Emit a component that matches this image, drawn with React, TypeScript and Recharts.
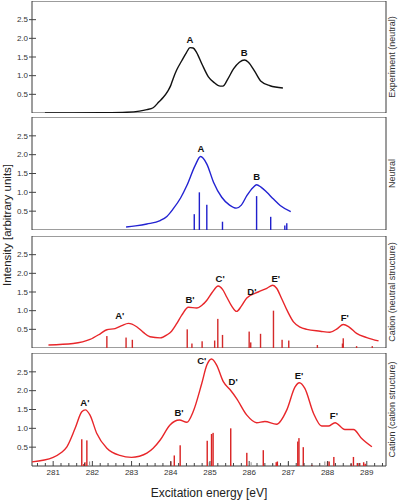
import React from "react";
import { ComposedChart, Line, Bar, XAxis, YAxis, ReferenceArea, ReferenceDot } from "recharts";

const X_DOMAIN: [number, number] = [280.46, 289.49];
const Y_TICKS = [0.5, 1.0, 1.5, 2.0, 2.5];
const X_MAJOR = [281, 282, 283, 284, 285, 286, 287, 288, 289];

// Experiment (neutral)
const expE = [280.79, 281.5, 282.2, 282.88, 283.2, 283.39, 283.55, 283.7, 283.81, 283.92, 284.0, 284.06, 284.15, 284.28, 284.4, 284.49, 284.57, 284.66, 284.8, 284.96, 285.1, 285.26, 285.33, 285.45, 285.6, 285.75, 285.88, 285.98, 286.15, 286.3, 286.53, 286.86];
const expV = [0, 0, 0.005, 0.02, 0.05, 0.09, 0.14, 0.3, 0.42, 0.58, 0.74, 0.92, 1.15, 1.4, 1.62, 1.75, 1.74, 1.62, 1.3, 0.97, 0.82, 0.72, 0.72, 0.9, 1.18, 1.36, 1.42, 1.36, 1.1, 0.85, 0.73, 0.67];

// Neutral
const neuE = [282.86, 283.1, 283.39, 283.73, 283.9, 284.06, 284.25, 284.41, 284.62, 284.76, 284.92, 285.09, 285.3, 285.5, 285.67, 285.8, 285.94, 286.1, 286.19, 286.3, 286.45, 286.62, 286.79, 287.06];
const neuV = [0.08, 0.11, 0.16, 0.25, 0.36, 0.56, 0.85, 1.18, 1.71, 1.95, 1.75, 1.27, 0.87, 0.66, 0.58, 0.66, 0.91, 1.13, 1.2, 1.14, 1.0, 0.82, 0.65, 0.49];
const neuStickE = [284.6, 284.73, 284.92, 285.32, 286.19, 286.55, 286.91, 286.96];
const neuStickV = [0.42, 1.0, 0.67, 0.22, 0.9, 0.35, 0.12, 0.18];

// Cation (neutral structure)
const catNE = [280.88, 281.51, 281.94, 282.2, 282.37, 282.58, 282.75, 282.92, 283.13, 283.3, 283.47, 283.73, 283.9, 284.02, 284.15, 284.28, 284.45, 284.66, 284.8, 284.92, 285.05, 285.21, 285.32, 285.43, 285.55, 285.68, 285.8, 285.94, 286.23, 286.45, 286.6, 286.7, 286.83, 286.98, 287.13, 287.3, 287.47, 287.81, 288.06, 288.25, 288.4, 288.55, 288.74, 289.0, 289.3];
const catNV = [0.08, 0.12, 0.23, 0.38, 0.49, 0.52, 0.6, 0.66, 0.57, 0.42, 0.3, 0.27, 0.35, 0.45, 0.65, 0.88, 1.09, 1.07, 1.15, 1.28, 1.48, 1.66, 1.57, 1.36, 1.13, 0.98, 1.12, 1.34, 1.5, 1.6, 1.68, 1.6, 1.32, 0.98, 0.7, 0.56, 0.5, 0.45, 0.42, 0.52, 0.63, 0.56, 0.39, 0.28, 0.19];
const catNStickE = [282.37, 282.86, 283.02, 284.42, 284.54, 284.8, 285.12, 285.2, 285.32, 286.0, 286.04, 286.29, 286.62, 286.84, 287.01, 287.74, 288.38, 288.4, 288.74, 289.14];
const catNStickV = [0.32, 0.28, 0.22, 0.5, 0.12, 0.18, 0.2, 0.78, 0.35, 0.44, 0.15, 0.38, 1.0, 0.22, 0.2, 0.08, 0.12, 0.26, 0.05, 0.05];

// Cation (cation structure)
const catCE = [280.46, 281.0, 281.2, 281.35, 281.56, 281.73, 281.82, 281.94, 282.11, 282.37, 282.7, 283.0, 283.2, 283.39, 283.55, 283.73, 283.98, 284.22, 284.41, 284.57, 284.79, 284.92, 285.04, 285.17, 285.34, 285.51, 285.68, 285.94, 286.19, 286.4, 286.7, 286.96, 287.17, 287.28, 287.42, 287.64, 287.85, 288.02, 288.19, 288.44, 288.66, 288.87, 289.13];
const catCV = [0.11, 0.23, 0.35, 0.51, 1.0, 1.44, 1.49, 1.35, 0.87, 0.47, 0.28, 0.23, 0.26, 0.34, 0.47, 0.69, 1.09, 1.22, 1.16, 1.44, 2.19, 2.68, 2.84, 2.68, 2.24, 2.03, 1.79, 1.35, 1.15, 1.18, 1.11, 1.49, 2.1, 2.21, 2.06, 1.4, 1.06, 1.06, 1.15, 0.97, 0.97, 0.73, 0.51];
const catCStickE = [281.73, 281.78, 281.81, 281.86, 284.0, 284.09, 284.24, 284.93, 285.04, 285.08, 285.53, 285.94, 286.36, 286.69, 286.72, 287.24, 287.27, 287.38, 287.6, 288.0, 288.04, 288.16, 288.6, 288.66, 288.76, 288.82, 288.92, 288.96];
const catCStickV = [0.71, 0.05, 0.1, 0.68, 0.12, 0.28, 0.55, 0.67, 0.85, 0.88, 1.0, 0.35, 0.42, 0.1, 0.12, 0.65, 0.74, 0.5, 0.03, 0.12, 0.12, 0.24, 0.06, 0.24, 0.08, 0.08, 0.1, 0.06];
const catCGreyE = [281.93, 284.98, 286.05, 286.6, 287.0, 287.93, 288.2];
const catCGreyV = [0.12, 0.1, 0.1, 0.05, 0.1, 0.12, 0.06];

type Peak = { name: string; e: number; v: number };
const expPeaks: Peak[] = [
  { name: "A", e: 284.49, v: 1.96 },
  { name: "B", e: 285.87, v: 1.62 },
];
const neuPeaks: Peak[] = [
  { name: "A", e: 284.77, v: 2.15 },
  { name: "B", e: 286.19, v: 1.43 },
];
const catNPeaks: Peak[] = [
  { name: "A'", e: 282.7, v: 0.88 },
  { name: "B'", e: 284.49, v: 1.3 },
  { name: "C'", e: 285.26, v: 1.86 },
  { name: "D'", e: 286.07, v: 1.52 },
  { name: "E'", e: 286.68, v: 1.86 },
  { name: "F'", e: 288.44, v: 0.82 },
];
const catCPeaks: Peak[] = [
  { name: "A'", e: 281.81, v: 1.68 },
  { name: "B'", e: 284.21, v: 1.41 },
  { name: "C'", e: 284.79, v: 2.81 },
  { name: "D'", e: 285.59, v: 2.24 },
  { name: "E'", e: 287.27, v: 2.41 },
  { name: "F'", e: 288.16, v: 1.33 },
];

type Row = { e: number; y?: number; s?: number; g?: number };

function merge(ce: number[], cv: number[], se: number[] = [], sv: number[] = [], ge: number[] = [], gv: number[] = []): Row[] {
  const rows: Row[] = [];
  ce.forEach((e, i) => rows.push({ e, y: cv[i] }));
  se.forEach((e, i) => rows.push({ e, s: sv[i] }));
  ge.forEach((e, i) => rows.push({ e, g: gv[i] }));
  return rows.sort((a, b) => a.e - b.e);
}

// minor ticks every 0.2 eV between the labelled ones
const xTicks: number[] = [];
[280, ...X_MAJOR].forEach((m) => {
  [0, 0.2, 0.4, 0.6, 0.8].forEach((d) => {
    const t = Math.round((m + d) * 10) / 10;
    if (t > X_DOMAIN[0] && t < X_DOMAIN[1]) xTicks.push(t);
  });
});

const FONT = '"Liberation Sans", Arial, Helvetica, sans-serif';
const INK = "#333";

function YTick({ x, y, payload }: any) {
  return (
    <g>
      <line x1={x - 3} x2={x + 4} y1={y} y2={y} stroke="#444" strokeWidth={1} />
      <text x={x - 4} y={y} dy={2.8} textAnchor="end" fontSize={8} fill={INK} fontFamily={FONT}>
        {Number(payload.value).toFixed(1)}
      </text>
    </g>
  );
}

function XTick({ x, y, payload }: any) {
  const v = Number(payload.value);
  const major = Math.abs(v - Math.round(v)) < 1e-6;
  return (
    <g>
      <line x1={x} x2={x} y1={y} y2={y - (major ? 5 : 3)} stroke="#444" strokeWidth={1} />
      {major && (
        <text x={x} y={y + 9} textAnchor="middle" fontSize={8} fill={INK} fontFamily={FONT}>
          {v}
        </text>
      )}
    </g>
  );
}

// stick of fixed width, centred on the bar's slot (the bar slot can be very narrow)
function stick(w: number) {
  return (props: any) => {
    const { x, y, width, height, fill } = props;
    if (!height || height <= 0) return <g />;
    return <rect x={x + width / 2 - w / 2} y={y} width={w} height={height} fill={fill} />;
  };
}

type PanelProps = {
  top: number;
  height: number;
  data: Row[];
  color: string;
  stickColor?: string;
  peaks: Peak[];
  showX?: boolean;
};

function Panel({ top, height, data, color, stickColor, peaks, showX }: PanelProps) {
  return (
    <div style={{ position: "absolute", left: 0, top }}>
      <ComposedChart
        width={398}
        height={showX ? height + 20 : height}
        data={data}
        margin={{ top: 0, right: 12, bottom: 0, left: 0 }}
      >
        <XAxis
          dataKey="e"
          type="number"
          domain={X_DOMAIN}
          allowDataOverflow
          hide={!showX}
          height={showX ? 20 : 0}
          ticks={xTicks}
          interval={0}
          axisLine={false}
          tickLine={false}
          tickSize={0}
          tickMargin={0}
          tick={<XTick />}
        />
        <YAxis
          type="number"
          domain={[0, 3]}
          allowDataOverflow
          ticks={Y_TICKS}
          width={32}
          axisLine={false}
          tickLine={false}
          tickSize={0}
          tickMargin={0}
          interval={0}
          tick={<YTick />}
        />
        {stickColor && (
          <Bar dataKey="s" stackId="st" fill={stickColor} barSize={1} shape={stick(1.4)} isAnimationActive={false} />
        )}
        {stickColor && (
          <Bar dataKey="g" stackId="st" fill="#9a9a9a" barSize={1} shape={stick(1.1)} isAnimationActive={false} />
        )}
        <Line
          dataKey="y"
          type="monotone"
          stroke={color}
          strokeWidth={1.4}
          dot={false}
          connectNulls
          isAnimationActive={false}
        />
        <ReferenceArea x1={X_DOMAIN[0]} x2={X_DOMAIN[1]} y1={0} y2={3} fill="none" stroke="#3a3a3a" strokeWidth={1} />
        {peaks.map((p) => (
          <ReferenceDot
            key={p.name}
            x={p.e}
            y={p.v}
            r={0}
            stroke="none"
            fill="none"
            label={{ value: p.name, position: "center", fontSize: 9.5, fontWeight: "bold", fill: "#111", fontFamily: FONT }}
          />
        ))}
      </ComposedChart>
    </div>
  );
}

const SIDE = [
  { text: "Experiment (neutral)", y: 57 },
  { text: "Neutral", y: 173.5 },
  { text: "Cation (neutral structure)", y: 292 },
  { text: "Cation (cation structure)", y: 409.5 },
];

export default function App() {
  return (
    <div style={{ position: "absolute", left: 0, top: 0, width: 398, height: 500, background: "#fff", fontFamily: FONT }}>
      <Panel top={1} height={112} data={merge(expE, expV)} color="#111" peaks={expPeaks} />
      <Panel top={117} height={113} data={merge(neuE, neuV, neuStickE, neuStickV)} color="#2323d2" stickColor="#2020cc" peaks={neuPeaks} />
      <Panel top={236} height={112} data={merge(catNE, catNV, catNStickE, catNStickV)} color="#e8262a" stickColor="#d42a2a" peaks={catNPeaks} />
      <Panel
        top={353}
        height={113}
        data={merge(catCE, catCV, catCStickE, catCStickV, catCGreyE, catCGreyV)}
        color="#e8262a"
        stickColor="#d92222"
        peaks={catCPeaks}
        showX
      />
      <svg width={398} height={500} style={{ position: "absolute", left: 0, top: 0, pointerEvents: "none" }}>
        <text transform="translate(10.5,225) rotate(-90)" textAnchor="middle" fontSize={11.5} fill="#222" fontFamily={FONT}>
          Intensity [arbitrary units]
        </text>
        {SIDE.map((s) => (
          <text key={s.text} transform={`translate(395,${s.y}) rotate(-90)`} textAnchor="middle" fontSize={9} fill={INK} fontFamily={FONT}>
            {s.text}
          </text>
        ))}
        <text x={209} y={496.5} textAnchor="middle" fontSize={12} fill="#222" fontFamily={FONT}>
          Excitation energy [eV]
        </text>
      </svg>
    </div>
  );
}
